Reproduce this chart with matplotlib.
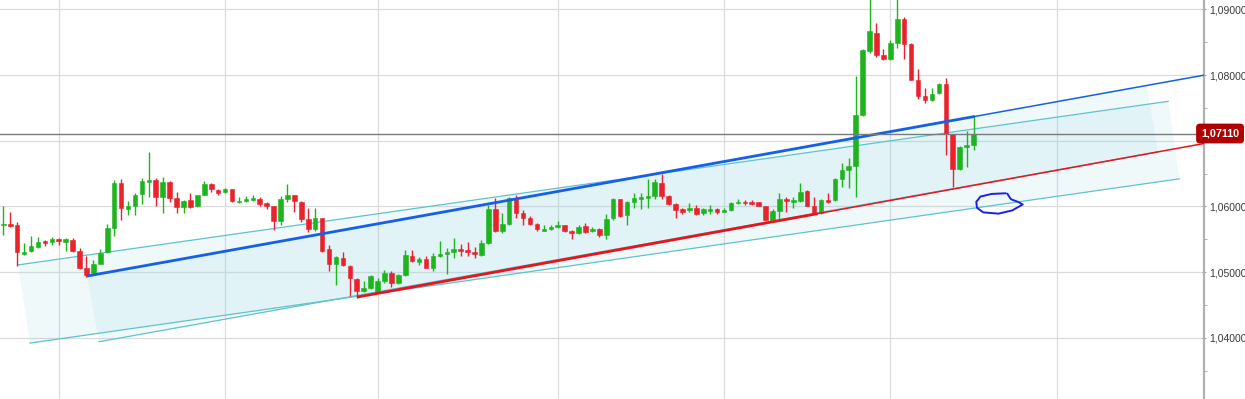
import matplotlib
matplotlib.use("Agg")
import matplotlib.pyplot as plt
import matplotlib.transforms as mtransforms
import numpy as np

# EUR/USD style candles, one per bar index
opens = [
    1.0571, 1.0573, 1.0572, 1.0528, 1.0532, 1.0539, 1.0547, 1.0546, 1.0550, 1.0546,
    1.0549, 1.0532, 1.0507, 1.0498, 1.0513, 1.0530, 1.0567, 1.0635, 1.0596, 1.0600,
    1.0619, 1.0637, 1.0640, 1.0614, 1.0637, 1.0613, 1.0599, 1.0610, 1.0600, 1.0618,
    1.0634, 1.0625, 1.0622, 1.0626, 1.0606, 1.0609, 1.0610, 1.0612, 1.0605, 1.0600,
    1.0578, 1.0612, 1.0617, 1.0607, 1.0581, 1.0566, 1.0582, 1.0535, 1.0513, 1.0522,
    1.0510, 1.0490, 1.0472, 1.0476, 1.0469, 1.0486, 1.0498, 1.0483, 1.0496, 1.0525,
    1.0516, 1.0520, 1.0507, 1.0524, 1.0527, 1.0530, 1.0535, 1.0534, 1.0531, 1.0526,
    1.0545, 1.0596, 1.0563, 1.0573, 1.0611, 1.0590, 1.0583, 1.0574, 1.0563, 1.0566,
    1.0568, 1.0571, 1.0562, 1.0559, 1.0570, 1.0562, 1.0566, 1.0557, 1.0582, 1.0611,
    1.0587, 1.0607, 1.0611, 1.0613, 1.0616, 1.0636, 1.0616, 1.0604, 1.0596, 1.0595,
    1.0598, 1.0590, 1.0593, 1.0596, 1.0592, 1.0595, 1.0605, 1.0607, 1.0607, 1.0606,
    1.0600, 1.0580, 1.0593, 1.0612, 1.0606, 1.0609, 1.0624, 1.0600, 1.0590, 1.0610,
    1.0610, 1.0641, 1.0656, 1.0662, 1.0739, 1.0836, 1.0864, 1.0830, 1.0824, 1.0849,
    1.0886, 1.0847, 1.0793, 1.0768, 1.0762, 1.0772, 1.0786, 1.0710, 1.0657, 1.0690,
    1.0694]
highs = [
    1.0600, 1.0592, 1.0577, 1.0545, 1.0555, 1.0553, 1.0549, 1.0553, 1.0552, 1.0552,
    1.0552, 1.0537, 1.0525, 1.0518, 1.0535, 1.0574, 1.0640, 1.0641, 1.0608, 1.0620,
    1.0644, 1.0683, 1.0644, 1.0645, 1.0639, 1.0622, 1.0610, 1.0621, 1.0618, 1.0639,
    1.0635, 1.0626, 1.0628, 1.0627, 1.0614, 1.0616, 1.0617, 1.0614, 1.0606, 1.0601,
    1.0616, 1.0634, 1.0618, 1.0609, 1.0597, 1.0598, 1.0583, 1.0541, 1.0524, 1.0531,
    1.0511, 1.0491, 1.0487, 1.0495, 1.0491, 1.0504, 1.0502, 1.0497, 1.0534, 1.0534,
    1.0523, 1.0525, 1.0529, 1.0548, 1.0537, 1.0552, 1.0543, 1.0546, 1.0539, 1.0549,
    1.0602, 1.0613, 1.0590, 1.0615, 1.0617, 1.0595, 1.0585, 1.0575, 1.0572, 1.0571,
    1.0578, 1.0572, 1.0564, 1.0572, 1.0575, 1.0569, 1.0567, 1.0589, 1.0613, 1.0612,
    1.0609, 1.0620, 1.0621, 1.0641, 1.0641, 1.0650, 1.0617, 1.0605, 1.0597, 1.0605,
    1.0602, 1.0598, 1.0602, 1.0597, 1.0598, 1.0607, 1.0612, 1.0610, 1.0610, 1.0607,
    1.0601, 1.0596, 1.0620, 1.0615, 1.0615, 1.0635, 1.0625, 1.0614, 1.0611, 1.0621,
    1.0644, 1.0666, 1.0673, 1.0799, 1.0839, 1.0926, 1.0879, 1.0839, 1.0853, 1.0922,
    1.0889, 1.0848, 1.0809, 1.0781, 1.0780, 1.0788, 1.0795, 1.0711, 1.0692, 1.0715,
    1.0737]
lows = [
    1.0557, 1.0569, 1.0509, 1.0526, 1.0531, 1.0537, 1.0540, 1.0541, 1.0541, 1.0532,
    1.0531, 1.0505, 1.0493, 1.0497, 1.0512, 1.0529, 1.0555, 1.0579, 1.0587, 1.0587,
    1.0604, 1.0615, 1.0600, 1.0590, 1.0607, 1.0590, 1.0590, 1.0597, 1.0599, 1.0617,
    1.0622, 1.0617, 1.0621, 1.0607, 1.0605, 1.0606, 1.0609, 1.0600, 1.0596, 1.0564,
    1.0572, 1.0606, 1.0592, 1.0577, 1.0561, 1.0562, 1.0531, 1.0502, 1.0480, 1.0510,
    1.0464, 1.0461, 1.0470, 1.0475, 1.0468, 1.0483, 1.0478, 1.0482, 1.0494, 1.0516,
    1.0511, 1.0506, 1.0502, 1.0523, 1.0497, 1.0522, 1.0524, 1.0524, 1.0521, 1.0525,
    1.0543, 1.0561, 1.0560, 1.0572, 1.0582, 1.0572, 1.0572, 1.0563, 1.0562, 1.0564,
    1.0567, 1.0561, 1.0550, 1.0558, 1.0560, 1.0561, 1.0553, 1.0550, 1.0579, 1.0584,
    1.0572, 1.0598, 1.0596, 1.0597, 1.0611, 1.0611, 1.0602, 1.0583, 1.0589, 1.0592,
    1.0587, 1.0587, 1.0589, 1.0588, 1.0591, 1.0593, 1.0603, 1.0602, 1.0602, 1.0600,
    1.0579, 1.0579, 1.0580, 1.0592, 1.0597, 1.0607, 1.0600, 1.0589, 1.0589, 1.0605,
    1.0608, 1.0630, 1.0628, 1.0615, 1.0738, 1.0833, 1.0828, 1.0823, 1.0823, 1.0841,
    1.0824, 1.0792, 1.0763, 1.0758, 1.0760, 1.0771, 1.0678, 1.0630, 1.0655, 1.0660,
    1.0686]
closes = [
    1.0573, 1.0570, 1.0531, 1.0531, 1.0540, 1.0546, 1.0544, 1.0550, 1.0547, 1.0550,
    1.0532, 1.0507, 1.0496, 1.0512, 1.0529, 1.0567, 1.0635, 1.0597, 1.0600, 1.0618,
    1.0639, 1.0640, 1.0614, 1.0637, 1.0613, 1.0599, 1.0608, 1.0599, 1.0617, 1.0634,
    1.0626, 1.0621, 1.0626, 1.0608, 1.0609, 1.0612, 1.0613, 1.0603, 1.0601, 1.0578,
    1.0611, 1.0617, 1.0609, 1.0581, 1.0566, 1.0582, 1.0532, 1.0513, 1.0523, 1.0511,
    1.0491, 1.0472, 1.0476, 1.0494, 1.0486, 1.0498, 1.0483, 1.0496, 1.0526, 1.0517,
    1.0520, 1.0507, 1.0525, 1.0527, 1.0530, 1.0535, 1.0532, 1.0531, 1.0527, 1.0545,
    1.0596, 1.0563, 1.0573, 1.0613, 1.0590, 1.0583, 1.0573, 1.0566, 1.0566, 1.0569,
    1.0571, 1.0562, 1.0559, 1.0569, 1.0561, 1.0566, 1.0557, 1.0581, 1.0611, 1.0585,
    1.0607, 1.0613, 1.0615, 1.0616, 1.0637, 1.0616, 1.0604, 1.0595, 1.0592, 1.0598,
    1.0589, 1.0596, 1.0596, 1.0592, 1.0595, 1.0605, 1.0607, 1.0605, 1.0604, 1.0601,
    1.0580, 1.0593, 1.0611, 1.0609, 1.0610, 1.0622, 1.0601, 1.0590, 1.0610, 1.0607,
    1.0641, 1.0655, 1.0662, 1.0739, 1.0838, 1.0867, 1.0830, 1.0824, 1.0849, 1.0885,
    1.0847, 1.0793, 1.0768, 1.0762, 1.0771, 1.0786, 1.0711, 1.0657, 1.0691, 1.0694,
    1.0711]

last_price = 1.0711
last_label = "1,07110"
price_ticks = [1.04, 1.05, 1.06, 1.07, 1.08, 1.09]
price_labels = ["1,04000", "1,05000", "1,06000", "", "1,08000", "1,09000"]
minor_ticks = [1.035, 1.045, 1.055, 1.065, 1.075, 1.085]
time_grid = [8, 32, 54, 80, 104, 128, 152]

# drawn objects: (bar index, price)
channel_a_top = [(2.12, 1.0511), (168.1, 1.0760)]
channel_a_bottom = [(3.85, 1.0392), (169.7, 1.0642)]
channel_b_top = [(12.08, 1.0494), (165.0, 1.0784)]
channel_b_bottom = [(13.8, 1.0394), (166.6, 1.0683)]
blue_trend = [(12.08, 1.0494), (140.2, 1.0737), (176.0, 1.0805)]
red_trend = [(51.04, 1.0462), (117.5, 1.0589), (176.0, 1.0701)]
scribble = [(144.6, 1.0620), (142.6, 1.0619), (141.0, 1.0615), (140.4, 1.0607),
            (140.5, 1.0598), (141.4, 1.0591), (143.6, 1.0589), (145.6, 1.0594),
            (147.1, 1.0603), (146.4, 1.0607), (145.4, 1.0611), (144.9, 1.0619)]

fig = plt.figure(figsize=(12.45, 3.99), dpi=100)
ax = fig.add_axes([0, 0, 1204 / 1245, 1])
ax.set_xlim(-0.48, 173.26)
ax.set_ylim(1.03069, 1.09142)

# grid
for g in price_ticks:
    ax.axhline(g, color="#dcdcdc", lw=0.9, zorder=0)
for g in time_grid:
    ax.axvline(g, color="#dcdcdc", lw=0.9, zorder=0)

# channels (semi transparent, overlap gets darker)
fill_col = "#7ccfdc"
for top, bot in [(channel_a_top, channel_a_bottom), (channel_b_top, channel_b_bottom)]:
    poly = [top[0], top[1], bot[1], bot[0]]
    ax.fill([p[0] for p in poly], [p[1] for p in poly], color=fill_col, alpha=0.12,
            lw=0, zorder=1)
cyan = "#5ec2cf"
for seg in [channel_a_top, channel_a_bottom, channel_b_bottom]:
    ax.plot([p[0] for p in seg], [p[1] for p in seg], color=cyan, lw=0.9, zorder=2)

# candles
x = np.arange(len(opens))
o = np.array(opens)
c = np.array(closes)
up = c >= o
cols = np.where(up, "#1db41d", "#e8232b")
bottom = np.minimum(o, c)
height = np.maximum(np.abs(c - o), 0.00025)
ax.vlines(x, lows, highs, colors=cols, lw=1.0, zorder=3)
ax.bar(x, height, bottom=bottom, width=0.66, color=cols, edgecolor=cols,
       lw=0.4, zorder=4)

# trend lines
ax.plot([p[0] for p in blue_trend[:2]], [p[1] for p in blue_trend[:2]],
        color="#1560e8", lw=2.0, zorder=5, solid_capstyle="butt")
ax.plot([p[0] for p in blue_trend[1:]], [p[1] for p in blue_trend[1:]],
        color="#1560e8", lw=1.1, zorder=5)
ax.plot([p[0] for p in red_trend[:2]], [p[1] for p in red_trend[:2]],
        color="#e8141c", lw=2.0, zorder=5, solid_capstyle="butt")
ax.plot([p[0] for p in red_trend[1:]], [p[1] for p in red_trend[1:]],
        color="#e8141c", lw=1.1, zorder=5)

# hand drawn mark
ax.plot([p[0] for p in scribble], [p[1] for p in scribble], color="#1a22e0",
        lw=1.4, zorder=6, solid_joinstyle="round")

# last price line
ax.axhline(last_price, color="#7a7a7a", lw=1.0, zorder=5)

# right axis
for s in ["top", "left", "bottom"]:
    ax.spines[s].set_visible(False)
ax.spines["right"].set_color("#b0b0b0")
ax.spines["right"].set_linewidth(1.6)
ax.set_xticks([])
ax.yaxis.tick_right()
ax.set_yticks(price_ticks)
ax.set_yticklabels(price_labels, fontsize=7.5, color="#3a3a3a",
                   fontfamily="Liberation Sans")
ax.set_yticks(minor_ticks, minor=True)
ax.tick_params(axis="y", which="major", direction="inout", length=3.5,
               color="#a0a0a0", pad=2.0)
ax.tick_params(axis="y", which="minor", direction="out", length=1.8,
               color="#a0a0a0")

trans = mtransforms.blended_transform_factory(ax.transAxes, ax.transData)
ax.text(0.9975, last_price, last_label, transform=trans, ha="left", va="center",
        fontsize=7.8, fontweight="bold", color="white", fontfamily="Liberation Sans",
        bbox=dict(boxstyle="round,pad=0.45,rounding_size=0.35", fc="#b00000", ec="none"),
        clip_on=False, zorder=10)

fig.savefig("out.png", dpi=100)
